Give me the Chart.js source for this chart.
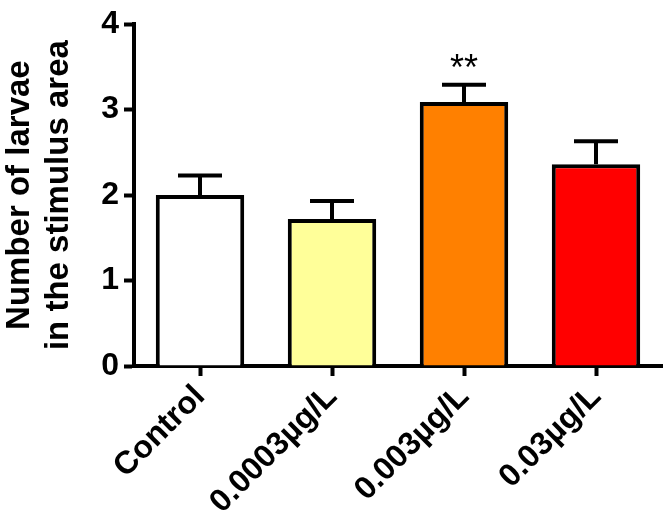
<!DOCTYPE html>
<html>
<head>
<meta charset="utf-8">
<script src="https://cdn.jsdelivr.net/npm/chart.js@4"></script>
<style>
  html, body { margin: 0; padding: 0; background: #fff; }
  #wrap { width: 666px; height: 523px; }
</style>
</head>
<body>
<div id="wrap"><canvas id="larvae-chart" width="666" height="523"></canvas></div>
<script>
    // data
    const groups = ['Control', '0.0003µg/L', '0.003µg/L', '0.03µg/L'];
    const means = [2.0, 1.72, 3.09, 2.36];
    const errTops = [2.23, 1.93, 3.29, 2.63];
    const marks = ['', '', '**', ''];
    const barColors = ['#ffffff', '#ffff99', '#ff8000', '#ff0000'];
    const yTicks = [0, 1, 2, 3, 4];

    const FONT = '"Liberation Sans", Arial, sans-serif';

    // upper error bars + significance stars, placed through the scales
    const errorBars = {
        id: 'errorBars',
        afterDatasetsDraw(chart) {
            const { ctx, scales: { x, y } } = chart;
            ctx.save();
            ctx.strokeStyle = '#000';
            ctx.lineWidth = 4;
            groups.forEach((g, i) => {
                const cx = x.getPixelForValue(i);
                const top = y.getPixelForValue(errTops[i]);
                const base = y.getPixelForValue(means[i]);
                ctx.beginPath();
                ctx.moveTo(cx, base); ctx.lineTo(cx, top);
                ctx.moveTo(cx - 22, top); ctx.lineTo(cx + 22, top);
                ctx.stroke();
                if (marks[i]) {
                    ctx.fillStyle = '#000';
                    ctx.font = '36px ' + FONT;
                    ctx.textAlign = 'center';
                    ctx.textBaseline = 'alphabetic';
                    ctx.fillText(marks[i], cx, top - 5);
                }
            });
            ctx.restore();
        }
    };

    const chart = new Chart(document.getElementById('larvae-chart'), {
        type: 'bar',
        data: {
            labels: groups,
            datasets: [{
                data: means,
                backgroundColor: barColors,
                borderColor: '#000',
                borderWidth: 4,
                barPercentage: 0.67,
                categoryPercentage: 1
            }]
        },
        options: {
            responsive: false,
            animation: false,
            layout: { padding: { top: 15, right: 4, left: 0, bottom: 0 } },
            plugins: { legend: { display: false }, tooltip: { enabled: false } },
            scales: {
                x: {
                    grid: { offset: false, drawOnChartArea: false, drawTicks: true, tickLength: 10, tickWidth: 4, tickColor: '#000' },
                    border: { display: true, width: 4, color: '#000' },
                    ticks: { color: '#000', minRotation: 45, maxRotation: 45, padding: 2,
                        font: { family: FONT, size: 32, weight: 'bold' } },
                    afterFit(s) { s.height = 157; }
                },
                y: {
                    min: 0, max: 4,
                    afterBuildTicks(s) { s.ticks = yTicks.map(v => ({ value: v })); },
                    grid: { drawOnChartArea: false, drawTicks: true, tickLength: 10, tickWidth: 4, tickColor: '#000' },
                    border: { display: true, width: 4, color: '#000' },
                    ticks: { color: '#000', padding: 5, font: { family: FONT, size: 32, weight: 'bold' } },
                    title: {
                        display: true,
                        text: ['Number of larvae', 'in the stimulus area'],
                        color: '#000',
                        padding: { top: 0, bottom: 0 },
                        font: { family: FONT, size: 33, weight: 'bold', lineHeight: 1.2 }
                    },
                    afterFit(s) { s.width = 134; }
                }
            }
        },
        plugins: [errorBars]
    });
</script>
</body>
</html>
